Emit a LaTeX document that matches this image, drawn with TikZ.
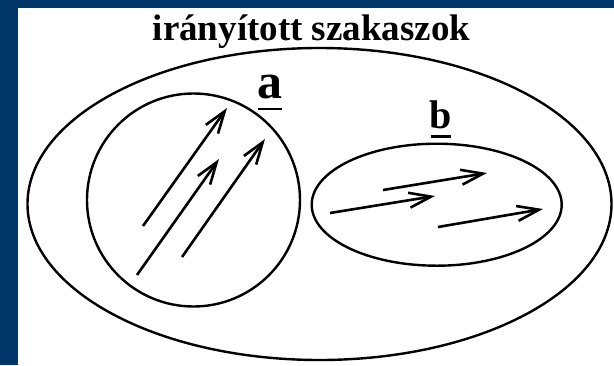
\documentclass[tikz,border=0pt]{standalone}
\usepackage{fontspec}
\setmainfont{Liberation Serif}
\usetikzlibrary{arrows.meta,shapes.geometric}
\definecolor{navy}{RGB}{0,54,104}

\begin{document}
\begin{tikzpicture}[
  x=1pt, y=-1pt,
  set/.style={draw, ellipse, line width=2.4pt, inner sep=0pt},
  vec/.style={line width=2.6pt, -{Straight Barb[length=22pt, width=15pt]}},
  uline/.style={line width=2.4pt},
  title/.style={font=\bfseries\fontsize{37}{40}\selectfont, inner sep=0pt, anchor=base},
  lbl/.style={font=\bfseries, inner sep=0pt, anchor=base}
]
% frame
\fill[navy] (0,0) rectangle (614,365);
\fill[white] (17.7,8) rectangle (614,365);
\useasboundingbox (0,0) rectangle (614,365);

\node[title] (heading) at (311.5,40) {irányított szakaszok};

% sets
\node[set, minimum width=584pt, minimum height=312pt] (outer) at (319.5,204) {};
\node[set, minimum width=213pt, minimum height=213pt] (seta) at (193.5,200) {};
\node[set, minimum width=250pt, minimum height=122pt] (setb) at (436.7,204.7) {};

% labels
\node[lbl, font=\bfseries\fontsize{50}{50}\selectfont] (lbla) at (270,98) {a};
\draw[uline] ([xshift=-12pt, yshift=-11pt]lbla.base) -- ++(24,0);
\node[lbl, font=\bfseries\fontsize{40}{40}\selectfont] (lblb) at (441,128) {b};
\draw[uline] ([xshift=-10pt, yshift=-8.5pt]lblb.base) -- ++(20,0);

% vectors in a
\draw[vec] (143,226) -- (227,108);
\draw[vec] (137,275) -- (219,159);
\draw[vec] (182,257) -- (265,139);

% vectors in b
\draw[vec] (383,190) -- (487,173);
\draw[vec] (330,213) -- (435,196);
\draw[vec] (438,227) -- (543,209);
\end{tikzpicture}
\end{document}
